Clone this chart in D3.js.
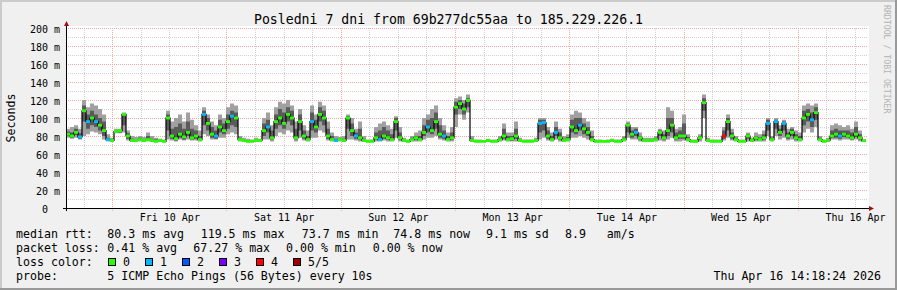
<!DOCTYPE html>
<html><head><meta charset="utf-8">
<script src="https://cdn.jsdelivr.net/npm/d3@7"></script>
<style>
html,body{margin:0;padding:0;background:#f0f0f0;}
svg{display:block;}
text{font-family:"DejaVu Sans Mono",monospace;white-space:pre;}
</style></head><body>
<svg id="c" width="897" height="290"></svg>
<script>
// ---------- data ----------
const titleText = "Posledni 7 dni from 69b277dc55aa to 185.229.226.1";
const endTime = new Date(2026, 3, 16, 14, 18, 24);
const spanDays = 7;

const yTicks = [0, 20, 40, 60, 80, 100, 120, 140, 160, 180, 200];
const yTickLabels = ["0", "20 m", "40 m", "60 m", "80 m", "100 m", "120 m", "140 m", "160 m", "180 m", "200 m"];
const xTickDays = ["2026-04-10", "2026-04-11", "2026-04-12", "2026-04-13", "2026-04-14", "2026-04-15", "2026-04-16"];
const xTickLabels = ["Fri 10 Apr", "Sat 11 Apr", "Sun 12 Apr", "Mon 13 Apr", "Tue 14 Apr", "Wed 15 Apr", "Thu 16 Apr"];

// median rtt (ms), one value per time slot
const median = [
  82,80,84,79,108,96,100,96,92,86,
  76,75,85,86,104,80,75,75,76,75,
  76,75,74,75,74,100,80,77,82,79,
  84,78,80,76,104,94,82,80,90,86,
  96,102,100,76,75,74,74,75,75,86,
  90,78,96,100,94,104,100,78,96,80,
  76,96,90,104,100,80,76,75,76,75,
  100,86,80,78,75,74,74,78,76,80,
  78,76,96,78,75,74,76,78,76,84,
  90,86,96,82,80,76,78,112,116,110,
  119.5,75,74,74,74,75,74,74,76,80,
  76,77,80,75,74,74,74,75,94,95,
  80,76,84,78,75,76,90,86,92,88,
  84,76,74,74,74,74,75,74,74,76,
  92,82,84,78,75,75,75,76,84,78,
  86,92,78,80,80,76,74,74,78,117,
  75,74,74,74,80,96,80,76,74,74,
  80,75,78,76,78,94,76,96,84,94,
  80,84,78,76,100,104,98,106,76,74,
  75,80,82,80,82,80,78,82,78,74.8
];
// lowest ping of the slot (ms)
const ping1 = [
  78,77,78,76,80,82,85,84,82,76,
  74,74,83,83,84,75,74,74,74,74,
  74,74,73.7,74,73.7,76,75,74,76,75,
  76,75,75,74,82,80,76,76,78,78,
  82,84,82,74,74,73.7,73.7,74,74,76,
  76,74,80,84,82,86,84,74,78,75,
  74,78,78,86,84,75,74,74,74,74,
  76,76,75,74,74,73.7,73.7,74,74,75,
  74,74,78,74,74,73.7,74,74,74,76,
  78,78,80,76,75,74,74,90,104,98,
  106,74,73.7,73.7,73.7,74,73.7,73.7,74,75,
  74,74,74,74,73.7,73.7,73.7,74,76,78,
  75,74,76,74,74,74,78,78,80,78,
  76,74,73.7,73.7,73.7,73.7,74,73.7,73.7,74,
  78,76,76,74,74,74,74,74,75,74,
  76,78,74,74,75,74,73.7,73.7,74,100,
  74,73.7,73.7,73.7,75,78,75,74,73.7,73.7,
  74,74,74,74,74,80,74,80,76,78,
  75,76,74,74,84,88,84,90,74,73.7,
  74,76,76,75,76,76,75,76,74,74
];
// second lowest ping (ms)
const ping2 = [
  80,78,81,77,96,88,92,90,86,80,
  75,74,84,84,92,77,74,74,75,74,
  75,74,74,74,74,86,77,75,78,76,
  80,76,77,75,92,86,78,77,84,82,
  88,92,90,75,74,74,74,74,74,80,
  84,76,88,92,88,96,92,76,86,77,
  75,86,84,96,92,77,75,74,75,74,
  88,80,77,76,74,74,74,76,75,77,
  76,75,86,76,74,74,75,76,75,80,
  84,82,88,78,77,75,76,104,110,104,
  112,74,74,74,74,74,74,74,75,77,
  75,75,77,74,74,74,74,74,84,86,
  77,75,80,76,74,75,84,82,86,82,
  80,75,74,74,74,74,74,74,74,75,
  84,78,80,76,74,74,74,75,80,76,
  80,84,76,77,77,75,74,74,76,108,
  74,74,74,74,77,86,77,75,74,74,
  77,74,76,75,76,86,75,88,80,86,
  77,80,76,75,92,96,90,98,75,74,
  74,78,78,77,79,78,76,79,76,74
];
// second highest ping (ms)
const ping4 = [
  85,84,88,83,114,104,108,104,100,96,
  78,76,86,87,105,83,77,76,78,76,
  80,77,76,76,75,104,88,90,94,88,
  96,88,86,80,108,100,90,86,98,94,
  104,108,106,78,76,75,75,76,76,94,
  98,86,104,110,106,112,108,88,104,86,
  80,106,98,112,108,88,80,77,77,77,
  102,94,84,88,77,75,75,84,86,90,
  86,82,100,84,76,75,78,80,80,92,
  98,100,106,92,86,80,84,118,120,116,
  122,77,75,75,74,76,75,75,78,88,
  80,80,88,76,75,75,75,76,98,98,
  86,80,90,84,77,79,98,100,100,94,
  90,80,75,75,74,75,76,75,75,78,
  94,86,88,80,76,76,76,78,86,82,
  100,100,84,86,94,79,75,75,80,122,
  76,75,75,75,86,100,84,78,75,75,
  82,76,80,78,82,98,78,98,88,96,
  84,88,82,80,108,110,106,112,78,75,
  76,86,88,86,86,86,84,90,82,75
];
// highest ping of the slot (ms)
const ping5 = [
  88,90,92,88,120,112,116,114,110,104,
  82,78,88,88,106,86,80,79,80,79,
  84,80,78,77,76,108,96,100,104,96,
  106,98,92,86,112,104,96,92,104,100,
  112,116,114,80,78,77,76,78,77,100,
  106,92,112,118,116,120,114,96,110,92,
  86,114,104,118,114,96,84,80,79,80,
  104,100,88,96,80,76,76,90,94,96,
  92,88,102,90,78,76,80,84,86,100,
  104,110,114,100,92,84,90,122,124,120,
  126,80,76,76,75,77,76,76,80,94,
  84,84,96,78,76,76,76,78,100,100,
  90,84,96,88,80,82,104,108,106,100,
  96,86,76,76,75,76,77,76,76,80,
  96,90,90,84,78,78,78,80,88,86,
  112,108,88,90,104,82,76,76,82,126,
  78,76,76,76,90,104,88,80,76,76,
  84,78,84,82,86,100,80,100,92,98,
  88,90,86,84,114,116,114,116,80,76,
  78,92,94,92,90,92,88,96,86,76
];
// lost pings per slot (out of 5)
const lost = [
  0,0,0,1,0,1,0,1,0,0,
  1,0,0,0,0,0,0,0,0,0,
  0,0,0,0,0,0,0,0,0,0,
  0,0,0,0,1,0,0,1,0,0,
  0,1,0,0,0,0,0,0,0,0,
  1,0,0,0,0,0,0,0,0,0,
  0,1,0,0,0,0,0,1,0,0,
  0,0,1,0,0,0,0,0,1,0,
  0,0,0,0,0,0,0,0,0,0,
  1,0,0,0,1,0,0,0,0,0,
  0,0,0,0,0,0,0,0,0,0,
  0,0,0,0,0,0,0,0,1,1,
  0,0,1,0,0,0,0,0,1,0,
  0,0,0,0,0,0,0,0,0,0,
  0,0,1,0,0,0,0,0,0,0,
  0,0,0,0,0,0,0,0,0,0,
  0,0,0,0,4,0,0,0,0,0,
  0,0,0,0,0,1,0,1,0,1,
  0,0,0,0,0,0,1,0,0,0,
  0,0,0,1,0,0,0,0,0,0
];

const lossLabels = ["0", "1", "2", "3", "4", "5/5"];
const lossColors = ["#26ff00", "#00b8ff", "#0059ff", "#7e00ff", "#ff0000", "#a00000"];

const legendRtt = ["median rtt:", "80.3 ms avg", "119.5 ms max", "73.7 ms min", "74.8 ms now", "9.1 ms sd", "8.9", "am/s"];
const legendLoss = ["packet loss:", "0.41 % avg", "67.27 % max", "0.00 % min", "0.00 % now"];
const probeText = ["probe:", "5 ICMP Echo Pings (56 Bytes) every 10s"];
const stampText = "Thu Apr 16 14:18:24 2026";
const watermark = "RRDTOOL / TOBI OETIKER";

// ---------- layout ----------
const W = 897, H = 290;
const X0 = 66, X1 = 866, YT = 28, YB = 208;
const svg = d3.select("#c");

const startTime = new Date(endTime.getTime() - spanDays * 864e5);
const x = d3.scaleTime().domain([startTime, endTime]).range([X0, X1]);
const y = d3.scaleLinear().domain([0, 200]).range([YB, YT]);

// background + 3D frame
svg.append("rect").attr("width", W).attr("height", H).attr("fill", "#f0f0f0");
svg.append("path").attr("d", `M0,0H${W}V2H2V${H}H0Z`).attr("fill", "#cbcbcb");
svg.append("path").attr("d", `M${W},${H}H0V${H-2}H${W-2}V0H${W}Z`).attr("fill", "#999999");

// canvas
svg.append("rect").attr("x", X0).attr("y", YT - 2).attr("width", X1 - X0 + 3).attr("height", YB - YT + 2).attr("fill", "#ffffff");

// grid
const g = svg.append("g");
const minorY = d3.range(10, 200, 20);
g.selectAll(".hmin").data(minorY).join("line")
  .attr("x1", X0).attr("x2", X1 + 2)
  .attr("y1", d => Math.round(y(d)) + 0.5).attr("y2", d => Math.round(y(d)) + 0.5)
  .attr("stroke", "#d2d2d2").attr("stroke-dasharray", "1,1");
const hours = d3.timeHour.every(6).range(startTime, endTime);
const minorX = hours.filter(d => d.getHours() !== 0);
const majorX = hours.filter(d => d.getHours() === 0);
g.selectAll(".vmin").data(minorX).join("line")
  .attr("x1", d => Math.round(x(d)) + 0.5).attr("x2", d => Math.round(x(d)) + 0.5)
  .attr("y1", YT).attr("y2", YB + 2)
  .attr("stroke", "#d2d2d2").attr("stroke-dasharray", "1,1");
g.selectAll(".hmaj").data(yTicks.filter(d => d > 0)).join("line")
  .attr("x1", X0).attr("x2", X1 + 2)
  .attr("y1", d => Math.round(y(d)) + 0.5).attr("y2", d => Math.round(y(d)) + 0.5)
  .attr("stroke", "#f4a8a8").attr("stroke-dasharray", "1,1");
g.selectAll(".vmaj").data(majorX).join("line")
  .attr("x1", d => Math.round(x(d)) + 0.5).attr("x2", d => Math.round(x(d)) + 0.5)
  .attr("y1", YT).attr("y2", YB + 3)
  .attr("stroke", "#f4a8a8").attr("stroke-dasharray", "1,1");

// data points
const step = (endTime - startTime) / median.length;
const pts = median.map((m, i) => ({
  t: new Date(startTime.getTime() + i * step),
  t2: new Date(startTime.getTime() + (i + 1) * step),
  med: m, p1: ping1[i], p2: ping2[i], p4: ping4[i], p5: ping5[i], loss: lost[i]
}));
const last = pts[pts.length - 1];
const ptsExt = pts.concat([Object.assign({}, last, { t: endTime })]);

// smoke (outer + inner)
svg.append("path").datum(ptsExt)
  .attr("d", d3.area().x(d => x(d.t)).y0(d => y(d.p1)).y1(d => y(d.p5)).curve(d3.curveStepAfter))
  .attr("fill", "#a0a0a0");
svg.append("path").datum(ptsExt)
  .attr("d", d3.area().x(d => x(d.t)).y0(d => y(d.p2)).y1(d => y(d.p4)).curve(d3.curveStepAfter))
  .attr("fill", "#5a5a5a");

// median line
svg.append("path").datum(ptsExt)
  .attr("d", d3.line().x(d => x(d.t)).y(d => y(d.med)).curve(d3.curveStepAfter))
  .attr("fill", "none").attr("stroke", "#000").attr("stroke-width", 1.2);

// loss coloured median marks
svg.append("g").selectAll("rect").data(pts).join("rect")
  .attr("x", d => x(d.t)).attr("width", d => x(d.t2) - x(d.t))
  .attr("y", d => y(d.med) - 1.4).attr("height", 2.8)
  .attr("fill", d => lossColors[d.loss]);

// axes
const ya = svg.append("g").attr("transform", `translate(${X0},0)`)
  .call(d3.axisLeft(y).tickValues(yTicks).tickSize(0).tickPadding(6).tickFormat((d, i) => yTickLabels[i]));
ya.select(".domain").remove();
ya.selectAll("text").attr("font-size", 10).attr("font-family", "DejaVu Sans Mono").attr("fill", "#000").attr("dy", "0.4em")
  .attr("x", d => d === 0 ? -18 : -6);

const noons = xTickDays.map(s => { const [a, b, c] = s.split("-").map(Number); return new Date(a, b - 1, c, 12); });
const xa = svg.append("g").attr("transform", `translate(0,${YB})`)
  .call(d3.axisBottom(x).tickValues(noons).tickSize(0).tickPadding(6).tickFormat((d, i) => xTickLabels[i]));
xa.select(".domain").remove();
xa.selectAll("text").attr("font-size", 10).attr("font-family", "DejaVu Sans Mono").attr("fill", "#000");

svg.append("line").attr("x1", X0 - 3).attr("x2", X1 + 3).attr("y1", YB + 0.5).attr("y2", YB + 0.5).attr("stroke", "#000");
svg.append("line").attr("x1", X0 + 0.5).attr("x2", X0 + 0.5).attr("y1", YB + 3).attr("y2", YT - 3).attr("stroke", "#000");
svg.append("path").attr("d", `M${X0 - 2},${YT - 2}L${X0 + 3},${YT - 2}L${X0 + 0.5},${YT - 7}Z`).attr("fill", "#9b1010");
svg.append("path").attr("d", `M${X1 + 3},${YB - 2}L${X1 + 3},${YB + 3}L${X1 + 8},${YB + 0.5}Z`).attr("fill", "#9b1010");

// title, axis label, watermark
svg.append("text").attr("x", 448.5).attr("y", 24).attr("text-anchor", "middle").attr("font-size", 13.2).text(titleText);
svg.append("text").attr("transform", "translate(15,118) rotate(-90)").attr("text-anchor", "middle").attr("font-size", 11.6).text("Seconds");
svg.append("text").attr("transform", "translate(884,5) rotate(90)").attr("font-size", 8.2).attr("fill", "#b4b4b4").text(watermark);

// legend
const fs = 11.6;
const rttX = [16, 107.3, 200.7, 301.7, 393.3, 486, 565, 606.7];
legendRtt.forEach((s, i) => svg.append("text").attr("x", rttX[i]).attr("y", 238).attr("font-size", fs).text(s));
const lossX = [16, 107.3, 193.3, 286, 372.7];
legendLoss.forEach((s, i) => svg.append("text").attr("x", lossX[i]).attr("y", 252).attr("font-size", fs).text(s));
svg.append("text").attr("x", 16).attr("y", 266).attr("font-size", fs).text("loss color:");
const lg = svg.append("g").selectAll("g").data(lossLabels).join("g")
  .attr("transform", (d, i) => `translate(${108 + i * 37},258)`);
lg.append("rect").attr("x", 0.5).attr("y", 0.5).attr("width", 7).attr("height", 7)
  .attr("fill", (d, i) => lossColors[i]).attr("stroke", "#000");
lg.append("text").attr("x", 15).attr("y", 8).attr("font-size", fs).text(d => d);
svg.append("text").attr("x", 16).attr("y", 280).attr("font-size", fs).text(probeText[0]);
svg.append("text").attr("x", 107.3).attr("y", 280).attr("font-size", fs).text(probeText[1]);
svg.append("text").attr("x", 881).attr("y", 280).attr("text-anchor", "end").attr("font-size", fs).text(stampText);
</script>
</body></html>
